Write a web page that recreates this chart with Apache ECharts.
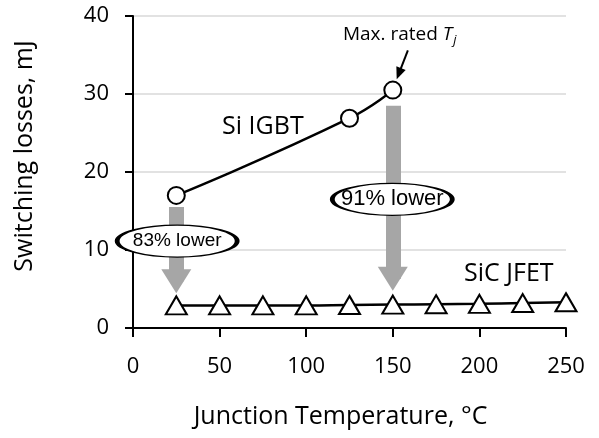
<!DOCTYPE html>
<html>
<head>
<meta charset="utf-8">
<script src="https://cdn.jsdelivr.net/npm/echarts@6/dist/echarts.min.js"></script>
<style>
  html, body { margin: 0; padding: 0; background: #fff; }
  #chart { width: 599px; height: 438px; }
</style>
</head>
<body>
<div id="chart"></div>
<script>
// data
const temps = [25, 50, 75, 100, 125, 150, 175, 200, 225, 250];
const igbtTemps = [25, 125, 150];
const igbtLoss = [17.0, 26.9, 30.5];
const jfetLoss = [2.9, 2.9, 2.9, 2.9, 2.95, 3.0, 3.05, 3.1, 3.2, 3.3];
const xTicks = [0, 50, 100, 150, 200, 250];
const yTicks = [0, 10, 20, 30, 40];

// annotations (data coordinates)
const reductionArrows = [
  { from: [25, 15.5], to: [25, 6.0] },
  { from: [150, 28.5], to: [150, 6.3] }
];
const reductionLabels = [
  { at: [25.5, 11.15], text: '83% lower' },
  { at: [149.7, 16.5], text: '91% lower' }
];
const seriesLabels = [
  { at: [75, 25.8], text: 'Si IGBT' },
  { at: [217, 7.0], text: 'SiC JFET' }
];
const tjArrow = { from: [158.7, 35.6], to: [153.5, 32.6] };
const tjLabel = { at: [154, 37.6] };

// the two bubble texts are not the same size in the source
const bubbleFontSizes = [19, 22];

const chart = echarts.init(document.getElementById('chart'));
const font = 'Open Sans';

const option = {
  animation: false,
  textStyle: { fontFamily: font },
  grid: { left: 133, right: 33, top: 16, bottom: 110 },
  xAxis: {
    type: 'value',
    min: xTicks[0],
    max: xTicks[xTicks.length - 1],
    interval: 50,
    name: 'Junction Temperature, °C',
    nameLocation: 'middle',
    nameGap: 76,
    nameTextStyle: { color: '#000', fontSize: 25, fontFamily: font, padding: [0, 18, 0, 0] },
    axisLine: { lineStyle: { color: '#000', width: 2 } },
    axisTick: { show: true, inside: false, length: 9, lineStyle: { color: '#000', width: 2 } },
    axisLabel: { color: '#000', fontSize: 22, margin: 28 },
    splitLine: { show: false }
  },
  yAxis: {
    type: 'value',
    min: yTicks[0],
    max: yTicks[yTicks.length - 1],
    interval: 10,
    name: 'Switching losses, mJ',
    nameLocation: 'middle',
    nameGap: 96,
    nameTextStyle: { color: '#000', fontSize: 25, fontFamily: font, padding: [0, 0, 0, 32] },
    axisLine: { show: true, lineStyle: { color: '#000', width: 2 } },
    axisTick: { show: true, inside: false, length: 8, lineStyle: { color: '#000', width: 2 } },
    axisLabel: { color: '#000', fontSize: 22, margin: 24 },
    splitLine: { lineStyle: { color: '#d9d9d9', width: 1.5 } }
  },
  series: [
    {
      name: 'arrows',
      type: 'line',
      data: [],
      z: 1,
      markLine: {
        silent: true,
        animation: false,
        symbol: ['none', 'triangle'],
        label: { show: false },
        lineStyle: { color: '#a6a6a6', width: 15, type: 'solid' },
        emphasis: { disabled: true },
        data: reductionArrows.map(a => [
          { coord: a.from, symbol: 'none' },
          { coord: a.to, symbol: 'triangle', symbolSize: [30, 24] }
        ]).concat([[
          { coord: tjArrow.from, symbol: 'none', lineStyle: { color: '#000', width: 2 } },
          { coord: tjArrow.to, symbol: 'triangle', symbolSize: [10, 12], lineStyle: { color: '#000', width: 2 } }
        ]])
      }
    },
    {
      name: 'Si IGBT',
      type: 'line',
      smooth: 0.5,
      z: 3,
      data: igbtTemps.map((t, i) => [t, igbtLoss[i]]),
      symbol: 'circle',
      symbolSize: 17,
      showAllSymbol: true,
      lineStyle: { color: '#000', width: 2.5 },
      itemStyle: { color: '#fff', borderColor: '#000', borderWidth: 2 }
    },
    {
      name: 'SiC JFET',
      type: 'line',
      smooth: true,
      z: 3,
      data: temps.map((t, i) => [t, jfetLoss[i]]),
      symbol: 'triangle',
      symbolSize: [21, 18],
      showAllSymbol: true,
      lineStyle: { color: '#000', width: 2.5 },
      itemStyle: { color: '#fff', borderColor: '#000', borderWidth: 2 }
    },
    {
      name: 'labels',
      type: 'line',
      data: [],
      z: 5,
      markPoint: {
        silent: true,
        animation: false,
        data: reductionLabels.map((l, i) => ({
          coord: l.at,
          symbol: 'circle',
          symbolSize: [120, 32],
          itemStyle: { color: '#fff', borderColor: '#000', borderWidth: 2.5 },
          label: {
            show: true, position: 'inside', formatter: l.text,
            color: '#000', fontSize: bubbleFontSizes[i], fontFamily: 'Liberation Sans'
          }
        })).concat(seriesLabels.map(l => ({
          coord: l.at,
          symbol: 'circle',
          symbolSize: 1,
          itemStyle: { color: 'rgba(0,0,0,0)' },
          label: { show: true, position: 'inside', formatter: l.text, color: '#000', fontSize: 25, fontFamily: font }
        }))).concat([{
          coord: tjLabel.at,
          symbol: 'circle',
          symbolSize: 1,
          itemStyle: { color: 'rgba(0,0,0,0)' },
          label: {
            show: true, position: 'inside',
            formatter: 'Max. rated {i|T}{s|j}',
            color: '#000', fontSize: 19, fontFamily: font,
            rich: {
              i: { fontSize: 19, fontStyle: 'italic', fontFamily: font, color: '#000' },
              s: { fontSize: 13, fontStyle: 'italic', fontFamily: font, color: '#000', padding: [12, 0, 0, 1] }
            }
          }
        }])
      }
    }
  ]
};

chart.setOption(option);
window.addEventListener('resize', () => chart.resize());
</script>
</body>
</html>
